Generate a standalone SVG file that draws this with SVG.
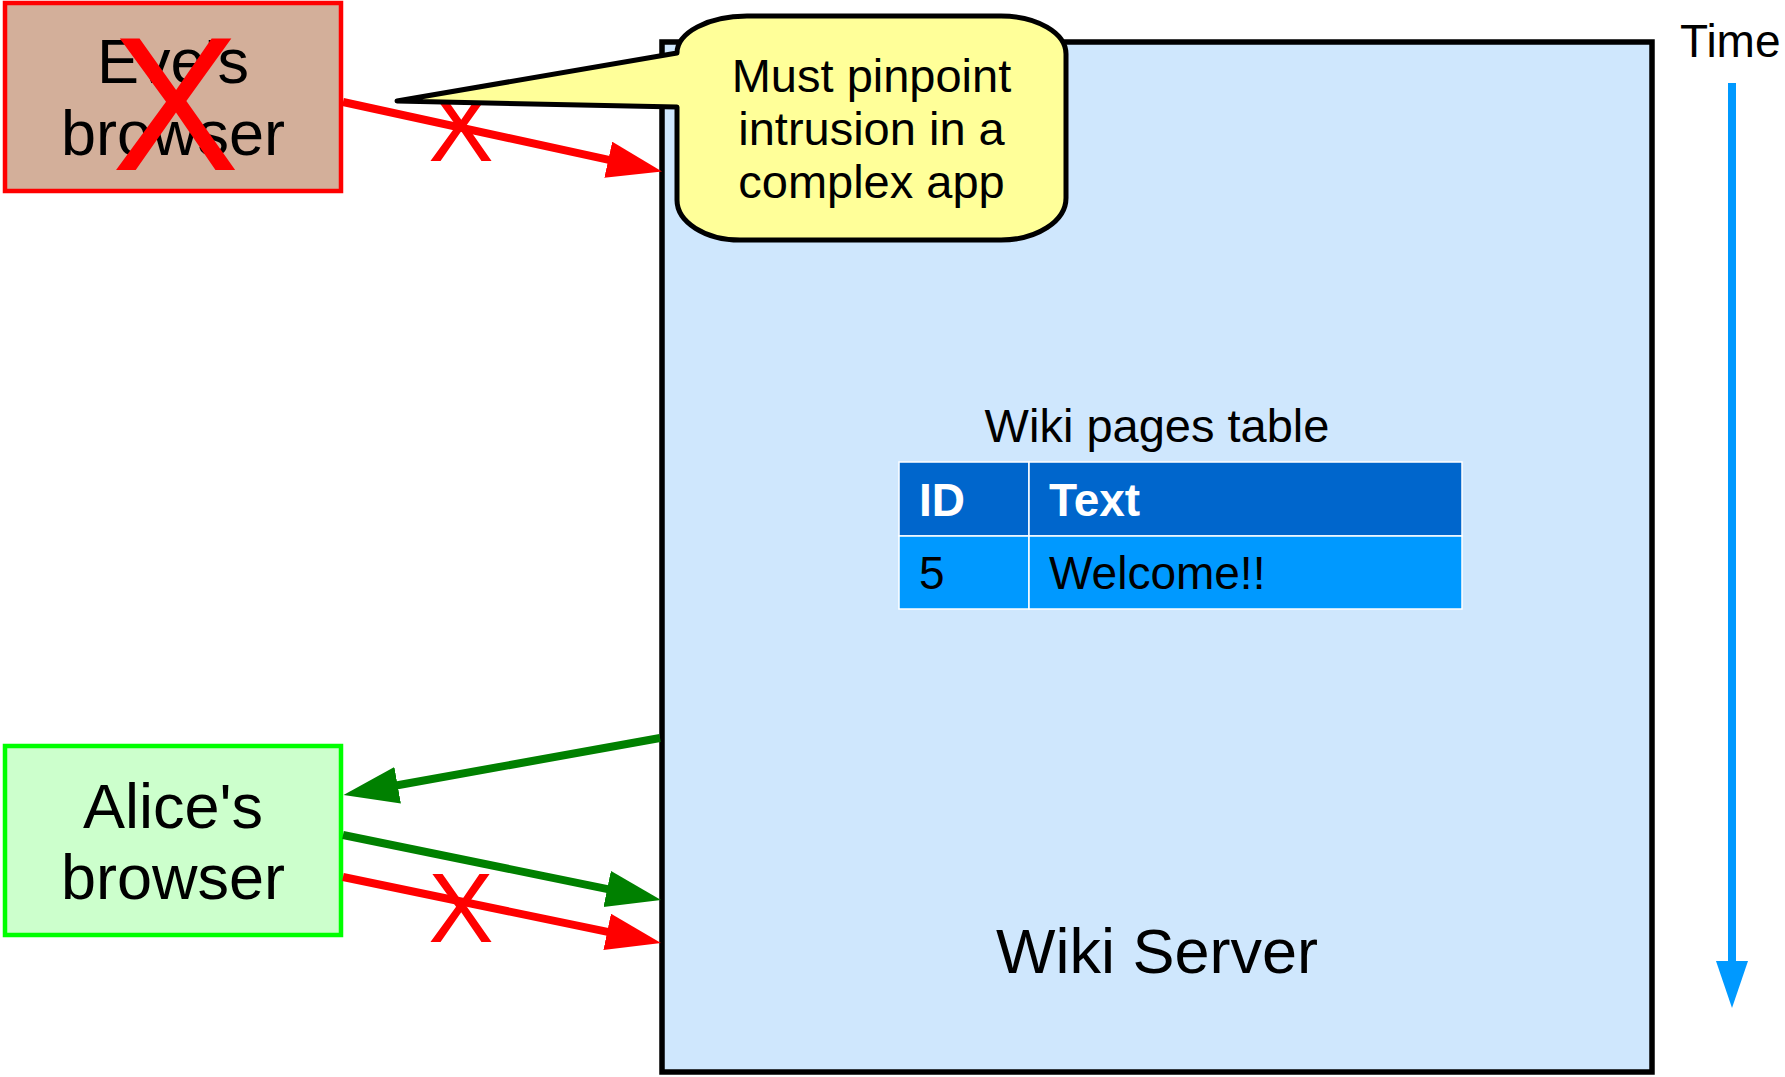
<svg xmlns="http://www.w3.org/2000/svg" width="1785" height="1077" viewBox="0 0 1785 1077">
<style>
text{font-family:"Liberation Sans",Arial,sans-serif;fill:#000}
.big{font-size:63px;text-anchor:middle}
.mid{font-size:47px;text-anchor:middle}
.cell{font-size:46px}
.hdr{font-size:46px;font-weight:bold;fill:#fff}
.xr{fill:#ff0000;text-anchor:middle}
.lr{stroke:#ff0000;stroke-width:8;fill:none}
.lg{stroke:#008000;stroke-width:8;fill:none}
</style>
<defs>
<marker id="ahR" markerUnits="userSpaceOnUse" markerWidth="56" markerHeight="38" refX="3" refY="18.5" orient="auto" viewBox="0 0 56 38">
<path d="M0,0 L55,18.5 L0,37 z" fill="#ff0000"/>
</marker>
<marker id="ahG" markerUnits="userSpaceOnUse" markerWidth="56" markerHeight="38" refX="3" refY="18.5" orient="auto" viewBox="0 0 56 38">
<path d="M0,0 L55,18.5 L0,37 z" fill="#008000"/>
</marker>
<marker id="ahB" markerUnits="userSpaceOnUse" markerWidth="48" markerHeight="33" refX="3" refY="16" orient="auto" viewBox="0 0 48 33">
<path d="M0,0 L47,16 L0,32 z" fill="#0099ff"/>
</marker>
</defs>
<rect width="1785" height="1077" fill="#fff"/>

<g id="wiki-server">
<rect x="662" y="42" width="990" height="1030" fill="#cfe7fd" stroke="#000" stroke-width="5.5"/>
<text class="big" x="1157" y="973">Wiki Server</text>
</g>

<g id="wiki-table">
<text class="mid" x="1157" y="442">Wiki pages table</text>
<rect x="899" y="462" width="130" height="74" fill="#0066cc" stroke="#fff" stroke-width="1.5"/>
<rect x="1029" y="462" width="433" height="74" fill="#0066cc" stroke="#fff" stroke-width="1.5"/>
<rect x="899" y="536" width="130" height="73" fill="#0099ff" stroke="#fff" stroke-width="1.5"/>
<rect x="1029" y="536" width="433" height="73" fill="#0099ff" stroke="#fff" stroke-width="1.5"/>
<text class="hdr" x="919" y="516">ID</text>
<text class="hdr" x="1049" y="516">Text</text>
<text class="cell" x="919" y="589">5</text>
<text class="cell" x="1049" y="589">Welcome!!</text>
</g>

<g id="eve-browser">
<rect x="5" y="3" width="336" height="188" fill="#d3af9a" stroke="#ff0000" stroke-width="4.5"/>
<text class="big" x="173" y="83">Eve's</text>
<text class="big" x="173" y="155">browser</text>
<text class="xr" x="175.5" y="170" font-size="191">X</text>
</g>

<g id="alice-browser">
<rect x="5" y="746" width="336" height="189" fill="#ccffcc" stroke="#00ff00" stroke-width="4.5"/>
<text class="big" x="173" y="828">Alice's</text>
<text class="big" x="173" y="899">browser</text>
</g>

<g id="connectors">
<path class="lr" d="M343,102 L611.2,160.4" marker-end="url(#ahR)"/>
<text class="xr" x="461" y="161" font-size="98">X</text>
<path class="lg" d="M660,738 L394.7,785.8" marker-end="url(#ahG)"/>
<path class="lg" d="M343,835 L610.1,889.6" marker-end="url(#ahG)"/>
<path class="lr" d="M343,877 L610.1,932.4" marker-end="url(#ahR)"/>
<text class="xr" x="461" y="942" font-size="98">X</text>
</g>

<g id="callout">
<path d="M677,53 A70,37 0 0 1 747,16 L1001,16 A65,38 0 0 1 1066,54 L1066,198 A65,42 0 0 1 1001,240 L740,240 A63,40 0 0 1 677,200 L677,107 L397,101 Z" fill="#ffff99" stroke="#000" stroke-width="5" stroke-linejoin="round"/>
<text class="mid" x="871.5" y="91.5">Must pinpoint</text>
<text class="mid" x="871.5" y="144.5">intrusion in a</text>
<text class="mid" x="871.5" y="197.5">complex app</text>
</g>

<g id="time">
<text x="1680" y="57" font-size="46">Time</text>
<path d="M1732,83 L1732,964" stroke="#0099ff" stroke-width="8" fill="none" marker-end="url(#ahB)"/>
</g>
</svg>
